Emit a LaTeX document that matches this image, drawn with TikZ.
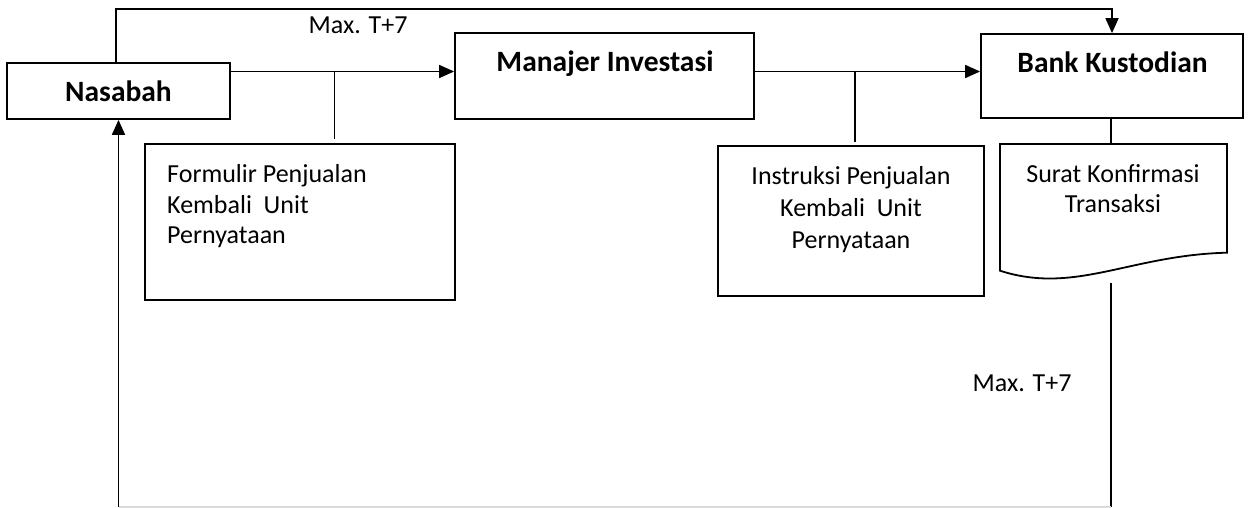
\documentclass[tikz,border=0pt]{standalone}
\usepackage{fontspec}
\setmainfont{Carlito}
\usetikzlibrary{arrows.meta}
\begin{document}
\begin{tikzpicture}[x=1pt,y=-1pt,
  box/.style={draw, line width=1.8pt, inner sep=0pt},
  conn/.style={line width=1.8pt},
  arr/.style={line width=1.8pt, -{Triangle[length=15pt,width=13pt]}},
  bold/.style={font=\fontsize{29.5}{33}\selectfont\bfseries, inner sep=0pt},
  txt/.style={font=\fontsize{26}{30.5}\selectfont, inner sep=0pt}]
\useasboundingbox (0,0) rectangle (1249,508);

% boxes
\node[box, minimum width=223pt, minimum height=56pt] (nas) at (118.5,91) {};
\node[bold, anchor=base] (nasT) at (118.5,102) {Nasabah};

\node[box, minimum width=299pt, minimum height=86pt] (man) at (604.5,76) {};
\node[bold, anchor=base] (manT) at (605,72) {Manajer Investasi};

\node[box, minimum width=262pt, minimum height=84pt] (bank) at (1112,76) {};
\node[bold, anchor=base] (bankT) at (1112.5,72.5) {Bank Kustodian};

\node[box, minimum width=310pt, minimum height=156pt] (form) at (300,222) {};
\node[txt, anchor=north west, align=left] (formT) at (167,164.5)
  {Formulir Penjualan\\Kembali~~Unit\\Pernyataan};

\node[box, minimum width=266pt, minimum height=150pt] (ins) at (851,221) {};
\node[txt, anchor=north, align=center, font=\fontsize{26}{32}\selectfont] (insT) at (851,166.5)
  {Instruksi Penjualan\\Kembali~~Unit\\Pernyataan};

% document shape
\draw[conn] (1000,144) -- (1227,144) -- (1227,252.7)
  .. controls (1130,255) and (1075,295) .. (1000,270.7) -- cycle;
\node[txt, anchor=north, align=center, font=\fontsize{26}{30}\selectfont] (surT) at (1113,164)
  {Surat Konfirmasi\\Transaksi};

% coordinates
\coordinate (tl) at (116,9);
\coordinate (ya) at (0,71.5);
\coordinate (b1) at (334.5,71.5);
\coordinate (b1e) at (334.5,139);
\coordinate (b2) at (855,71.5);
\coordinate (b2e) at (855,142);
\coordinate (dtop) at (1111,144);
\coordinate (dbot) at (1111,283);
\coordinate (br) at (1111,507);
\coordinate (bl) at (118.5,507);

% connectors
\draw[arr] (nas.north -| tl) -- (tl) -| (bank.north);
\draw[arr] (nas.east |- ya) -- (man.west |- ya);
\draw[conn] (b1) -- (b1e);
\draw[arr] (man.east |- ya) -- (bank.west |- ya);
\draw[conn] (b2) -- (b2e);
\draw[conn] (bank.south -| dtop) -- (dtop);
\draw[conn] (dbot) -- (br);
\draw[line width=1.8pt, black!15] (br) -- (bl);
\draw[arr] (bl) -- (nas.south);

% labels
\node[txt, anchor=base] (max1) at (358,34) {Max. T+7};
\node[txt, anchor=base] (max2) at (1022,391) {Max. T+7};
\end{tikzpicture}
\end{document}
